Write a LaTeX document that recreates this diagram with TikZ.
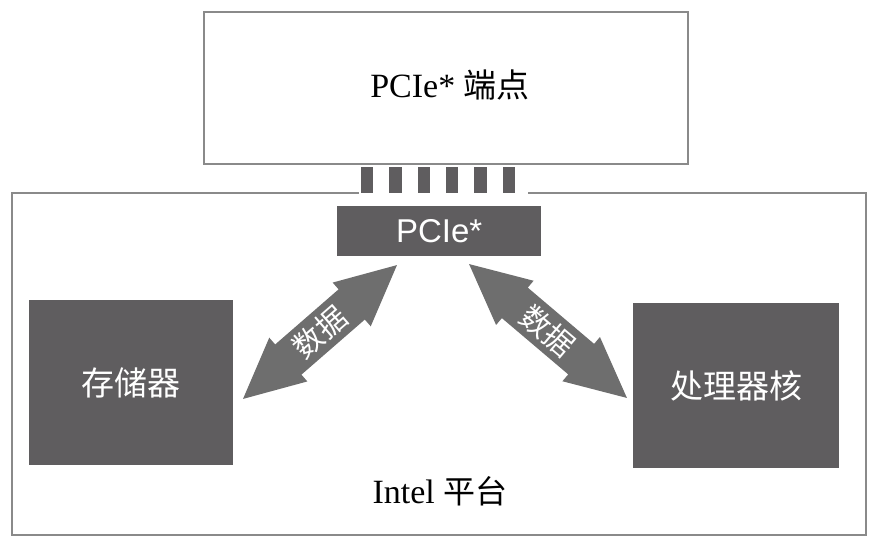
\documentclass[tikz,border=0pt]{standalone}
\usepackage{fontspec}
\setmainfont{Liberation Serif}
\newfontfamily\cjk{Noto Sans CJK SC}
\newfontfamily\arialf{Liberation Sans}
\definecolor{linegray}{HTML}{8A8A8A}
\definecolor{boxgray}{HTML}{5F5D5F}
\definecolor{arrowgray}{HTML}{6E6E6E}
\newcommand\mydataarrow[4]{% center, angle, half length, label name
  \begin{scope}[shift={#1}, rotate=#2]
    \fill[arrowgray] (-#3,0) -- (-#3+60,-29) -- (-#3+60,-20) -- (#3-60,-20) -- (#3-60,-29)
      -- (#3,0) -- (#3-60,29) -- (#3-60,20) -- (-#3+60,20) -- (-#3+60,29) -- cycle;
    \node[datatext, rotate=#2] (#4) at (0,0) {数据};
  \end{scope}}
\begin{document}
\begin{tikzpicture}[x=1pt,y=-1pt,
  outline/.style={draw=linegray, line width=2pt, fill=white, rectangle, inner sep=0pt, anchor=north west},
  darkbox/.style={fill=boxgray, rectangle, inner sep=0pt, anchor=north west, text=white},
  pinbox/.style={fill=boxgray, rectangle, inner sep=0pt, anchor=north west, minimum width=12.5pt, minimum height=26pt},
  datatext/.style={text=white, inner sep=0pt, font=\cjk\fontsize{30}{30}\selectfont},
  serifcap/.style={inner sep=0pt, anchor=base, font=\fontsize{34}{34}\selectfont}]
\useasboundingbox (0,0) rectangle (875,543);
\fill[white] (0,0) rectangle (875,543);

\node[outline, minimum width=854pt, minimum height=342pt] (platform) at (11,192) {};
\node[outline, minimum width=484pt, minimum height=152pt] (endpoint) at (203,11) {};
\node[serifcap] (endpointtext) at (450,97) {PCIe* {\cjk\fontsize{33}{33}\selectfont 端点}};
\fill[white] (359,189) rectangle (528,195);
\foreach \i in {0,...,5} \node[pinbox] (pin\i) at (360.5+28.4*\i,167) {};

\node[darkbox, minimum width=204pt, minimum height=50pt, font=\arialf\fontsize{33}{33}\selectfont] (pcie) at (337,206) {PCIe*};
\node[darkbox, minimum width=204pt, minimum height=165pt, font=\cjk\fontsize{33}{33}\selectfont] (mem) at (29,300) {存储器};
\node[darkbox, minimum width=206pt, minimum height=165pt, font=\cjk\fontsize{33}{33}\selectfont] (cpu) at (633,303) {处理器核};

\mydataarrow{(320,332)}{41}{102}{dataL}
\mydataarrow{(548,331)}{-40.3}{103.5}{dataR}

\node[serifcap] (intel) at (440,503) {Intel {\cjk\fontsize{32}{32}\selectfont 平台}};
\end{tikzpicture}
\end{document}
